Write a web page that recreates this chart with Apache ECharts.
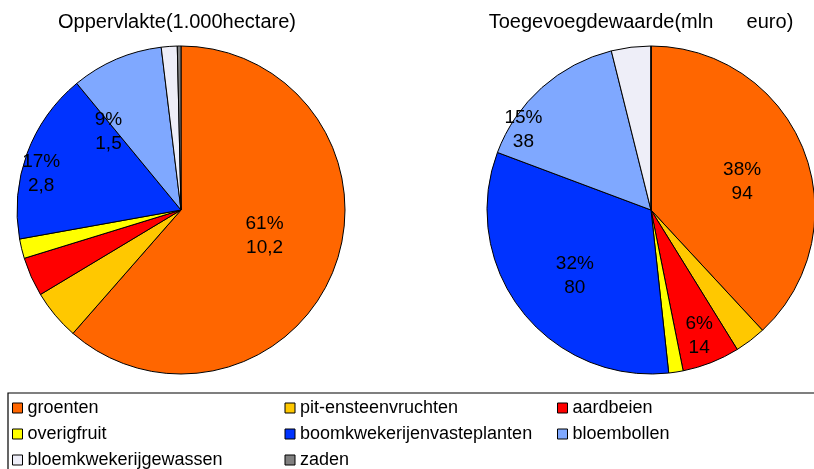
<!DOCTYPE html>
<html>
<head>
<meta charset="utf-8">
<script src="https://cdn.jsdelivr.net/npm/echarts@6/dist/echarts.min.js"></script>
<style>html,body{margin:0;padding:0;background:#fff}#c{width:814px;height:469px}</style>
</head>
<body>
<div id="c"></div>
<script>
var categories = ['groenten','pit-ensteenvruchten','aardbeien','overigfruit','boomkwekerijenvasteplanten','bloembollen','bloemkwekerijgewassen','zaden'];
var colors = ['#FF6600','#FFC800','#FF0000','#FFFF00','#0033FF','#7FA8FF','#EEEEF8','#808080'];
var areaValues = [10.2, 0.82, 0.64, 0.32, 2.8, 1.5, 0.26, 0.06];
var valueAdded = [94, 7.6, 14, 3.5, 80, 38, 9.6, 0];
var titles = ['Oppervlakte(1.000hectare)', 'Toegevoegdewaarde(mln      euro)'];
var labelledLeft = ['groenten','boomkwekerijenvasteplanten','bloembollen'];
var labelledRight = ['groenten','aardbeien','boomkwekerijenvasteplanten','bloembollen'];

// label offsets (styling)
var offsetsLeft = {groenten:[4,-4], boomkwekerijenvasteplanten:[-60,-7], bloembollen:[-39,0]};
var offsetsRight = {groenten:[12,3], aardbeien:[17,47], boomkwekerijenvasteplanten:[-9,14], bloembollen:[-71,-17]};

function fmt(v){ return String(v).replace('.', ','); }
function sum(a){ return a.reduce(function(s,v){return s+v;},0); }

function buildData(values, labelled, offsets){
  var total = sum(values);
  return categories.map(function(n,i){
    var show = labelled.indexOf(n) >= 0;
    return {
      name: n, value: values[i],
      itemStyle: {color: colors[i]},
      label: {
        show: show, offset: show ? offsets[n] : [0,0],
        formatter: Math.round(values[i] / total * 100) + '%\n' + fmt(values[i])
      }
    };
  });
}

var baseSeries = {
  type: 'pie',
  radius: 164,
  startAngle: 90,
  clockwise: true,
  avoidLabelOverlap: false,
  itemStyle: {borderColor: '#000', borderWidth: 1},
  labelLine: {show: false},
  emphasis: {disabled: true},
  label: {
    position: 'inside',
    color: '#000',
    fontFamily: 'Liberation Sans',
    fontSize: 19,
    lineHeight: 24
  }
};

var titleStyle = {fontFamily: 'Liberation Sans', fontSize: 20, fontWeight: 'normal', color: '#000'};

var chart = echarts.init(document.getElementById('c'), null, {renderer: 'canvas'});
chart.setOption({
  animation: false,
  color: colors,
  title: [
    {text: titles[0], left: 177, top: 12, textAlign: 'center', padding: 0, textStyle: titleStyle},
    {text: titles[1], left: 641, top: 12, textAlign: 'center', padding: 0, textStyle: titleStyle}
  ],
  legend: {
    data: categories,
    left: 12, top: 399, width: 830,
    orient: 'horizontal',
    padding: 0,
    icon: 'rect',
    itemWidth: 10, itemHeight: 10,
    itemGap: 8,
    itemStyle: {borderColor: '#000', borderWidth: 1},
    selectedMode: false,
    textStyle: {fontFamily: 'Liberation Sans', fontSize: 18, color: '#000', width: 249, overflow: 'truncate', lineHeight: 17.5}
  },
  graphic: [{
    type: 'rect', silent: true,
    shape: {x: 8, y: 393, width: 830, height: 100},
    style: {fill: 'none', stroke: '#000', lineWidth: 1.2}
  }],
  series: [
    Object.assign({}, baseSeries, {name: titles[0], center: [181, 210], data: buildData(areaValues, labelledLeft, offsetsLeft)}),
    Object.assign({}, baseSeries, {name: titles[1], center: [651, 210], data: buildData(valueAdded, labelledRight, offsetsRight)})
  ]
});
</script>
</body>
</html>
